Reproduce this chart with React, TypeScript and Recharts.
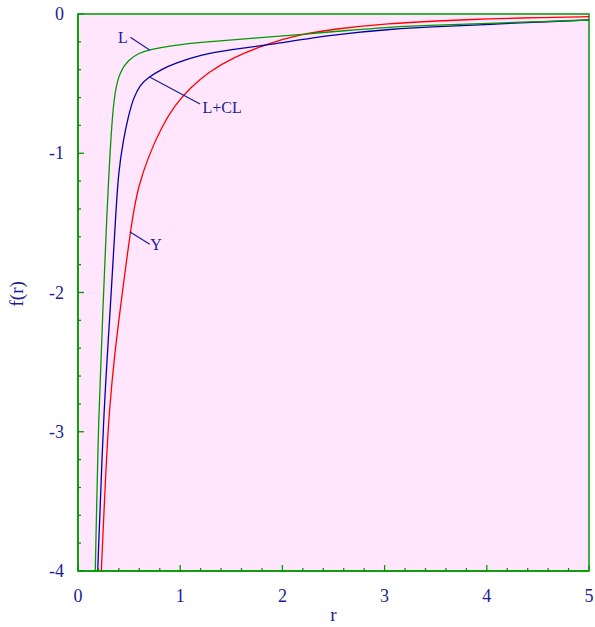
import React from 'react';
import {
  LineChart,
  Line,
  XAxis,
  YAxis,
  ReferenceArea,
  ReferenceLine,
  ReferenceDot,
} from 'recharts';

// r values and f(r)
const rL = [0.169, 0.202, 0.244, 0.284, 0.303, 0.33, 0.362, 0.411, 0.492, 0.59, 0.705, 0.949, 1.194, 1.7, 2.17, 2.6, 3.05, 3.5, 4.03, 4.5, 5.0];
const fL = [-4.0, -2.843, -2.125, -1.407, -1.144, -0.785, -0.546, -0.414, -0.33, -0.282, -0.254, -0.223, -0.203, -0.175, -0.148, -0.12, -0.093, -0.08, -0.067, -0.055, -0.043];

const rLCL = [0.193, 0.251, 0.316, 0.372, 0.395, 0.443, 0.492, 0.541, 0.607, 0.688, 0.819, 0.949, 1.194, 1.5, 1.846, 2.5, 3.05, 3.6, 4.03, 4.5, 5.0];
const fLCL = [-4.0, -2.843, -2.125, -1.407, -1.144, -0.905, -0.737, -0.605, -0.51, -0.455, -0.397, -0.354, -0.294, -0.255, -0.223, -0.148, -0.108, -0.088, -0.074, -0.058, -0.043];

const rY = [0.228, 0.274, 0.306, 0.36, 0.42, 0.53, 0.59, 0.688, 0.819, 0.949, 1.1, 1.27, 1.52, 1.846, 2.17, 2.5, 3.05, 3.5, 4.03, 4.5, 5.0];
const fY = [-4.0, -3.25, -2.843, -2.43, -2.08, -1.46, -1.24, -1.024, -0.809, -0.653, -0.53, -0.419, -0.311, -0.215, -0.148, -0.108, -0.067, -0.05, -0.034, -0.026, -0.019];

const xTicks = Array.from({ length: 26 }, (_, i) => Math.round(i * 2) / 10);
const yTicks = Array.from({ length: 21 }, (_, i) => Math.round(-40 + i * 2) / 10);

const toPoints = (rs: number[], fs: number[]) => rs.map((r, i) => ({ r, f: fs[i] }));

const dataL = toPoints(rL, fL);
const dataLCL = toPoints(rLCL, fLCL);
const dataY = toPoints(rY, fY);

const W = 595;
const H = 627;
const LEFT = 78;
const RIGHT = 6;
const TOP = 14;
const BOTTOM = 56;
const AXIS_Y = H - BOTTOM;

const GREEN = '#009900';
const NAVY = '#1c1c96';
const FONT = '"Liberation Serif", "Times New Roman", serif';

const isMajor = (v: number) => Math.abs(v - Math.round(v)) < 1e-6;

const XTick = (props: any) => {
  const { payload } = props;
  const cx = payload.coordinate;
  const major = isMajor(payload.value);
  return (
    <g>
      <line x1={cx} x2={cx} y1={AXIS_Y} y2={AXIS_Y - (major ? 6 : 3)} stroke={GREEN} strokeWidth={1.3} />
      {major && (
        <text x={cx} y={AXIS_Y + 31} textAnchor="middle" fill={NAVY} fontSize={18} fontFamily={FONT}>
          {Math.round(payload.value)}
        </text>
      )}
    </g>
  );
};

const YTick = (props: any) => {
  const { payload } = props;
  const cy = payload.coordinate;
  const major = isMajor(payload.value);
  return (
    <g>
      <line x1={LEFT} x2={LEFT + (major ? 6 : 3)} y1={cy} y2={cy} stroke={GREEN} strokeWidth={1.3} />
      {major && (
        <text x={LEFT - 14} y={cy + 6} textAnchor="end" fill={NAVY} fontSize={18} fontFamily={FONT}>
          {Math.round(payload.value)}
        </text>
      )}
    </g>
  );
};

const labelStyle = { fill: NAVY, fontSize: 16, fontFamily: FONT };

export default function App() {
  return (
    <div style={{ position: 'absolute', left: 0, top: 0, width: W, height: H, background: '#fff' }}>
      <LineChart
        width={W}
        height={H}
        margin={{ top: TOP, right: RIGHT, bottom: 0, left: 0 }}
      >
        <ReferenceArea
          x1={0}
          x2={5}
          y1={-4}
          y2={0}
          fill="#FFE6FC"
          fillOpacity={1}
          stroke={GREEN}
          strokeWidth={1.5}
        />
        <XAxis
          type="number"
          dataKey="r"
          domain={[0, 5]}
          ticks={xTicks}
          interval={0}
          allowDataOverflow
          height={BOTTOM}
          axisLine={{ stroke: GREEN, strokeWidth: 1.5 }}
          tickLine={false}
          tick={<XTick />}
          label={{ value: 'r', position: 'insideBottom', offset: 6, fill: NAVY, fontSize: 19, fontFamily: FONT }}
        />
        <YAxis
          type="number"
          domain={[-4, 0]}
          ticks={yTicks}
          interval={0}
          allowDataOverflow
          width={LEFT}
          axisLine={{ stroke: GREEN, strokeWidth: 1.5 }}
          tickLine={false}
          tick={<YTick />}
          label={{ value: 'f(r)', angle: -90, position: 'insideLeft', offset: 16, dy: 14, fill: NAVY, fontSize: 19, fontFamily: FONT }}
        />
        <Line data={dataY} dataKey="f" type="basis" stroke="#ff0000" strokeWidth={1.3} dot={false} isAnimationActive={false} />
        <Line data={dataLCL} dataKey="f" type="basis" stroke="#0000a8" strokeWidth={1.3} dot={false} isAnimationActive={false} />
        <Line data={dataL} dataKey="f" type="basis" stroke={GREEN} strokeWidth={1.3} dot={false} isAnimationActive={false} />

        <ReferenceLine segment={[{ x: 0.512, y: -0.167 }, { x: 0.701, y: -0.258 }]} stroke={NAVY} strokeWidth={1.2} />
        <ReferenceLine segment={[{ x: 0.705, y: -0.454 }, { x: 1.194, y: -0.646 }]} stroke={NAVY} strokeWidth={1.2} />
        <ReferenceLine segment={[{ x: 0.506, y: -1.563 }, { x: 0.702, y: -1.653 }]} stroke={NAVY} strokeWidth={1.2} />

        <ReferenceDot x={0.44} y={-0.17} r={1} fill="none" stroke="none" label={{ value: 'L', position: 'center', ...labelStyle }} />
        <ReferenceDot x={1.41} y={-0.668} r={1} fill="none" stroke="none" label={{ value: 'L+CL', position: 'center', ...labelStyle }} />
        <ReferenceDot x={0.763} y={-1.651} r={1} fill="none" stroke="none" label={{ value: 'Y', position: 'center', ...labelStyle }} />
      </LineChart>
    </div>
  );
}
